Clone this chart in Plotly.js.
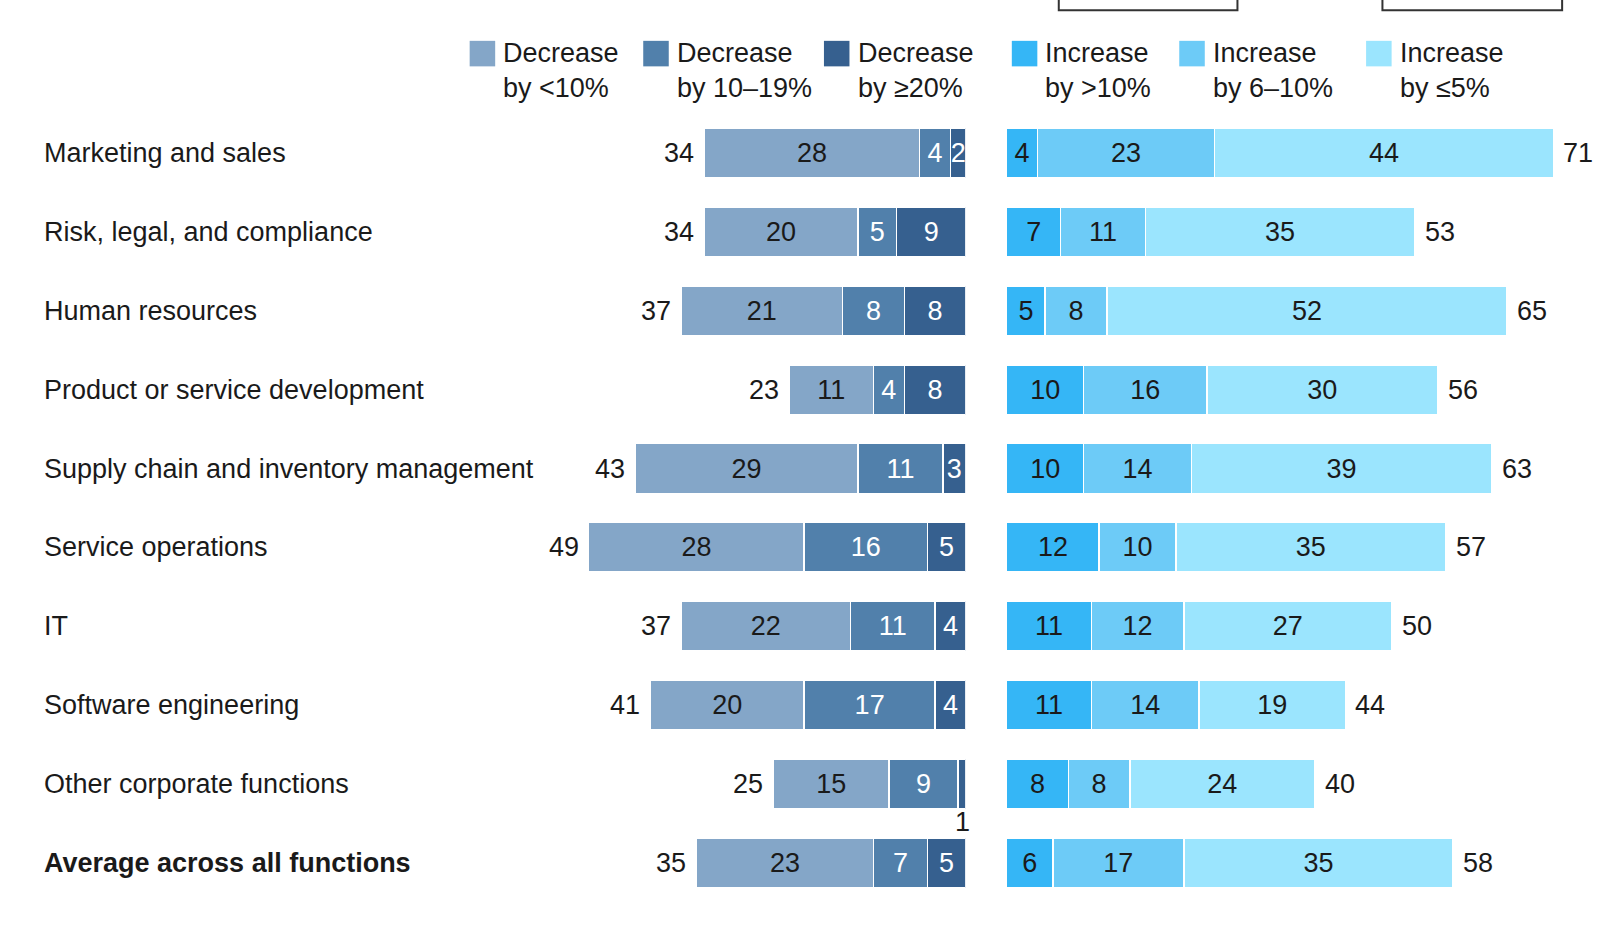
<!DOCTYPE html>
<html>
<head>
<meta charset="utf-8">
<script src="https://cdn.plot.ly/plotly-3.0.1.min.js"></script>
<style>html,body{margin:0;padding:0;background:#fff;}#chart{width:1600px;height:934px;}</style>
</head>
<body>
<div id="chart"></div>
<script>
const categories = [
  "Marketing and sales",
  "Risk, legal, and compliance",
  "Human resources",
  "Product or service development",
  "Supply chain and inventory management",
  "Service operations",
  "IT",
  "Software engineering",
  "Other corporate functions",
  "Average across all functions"
];
const decLt10   = [28, 20, 21, 11, 29, 28, 22, 20, 15, 23];
const dec10to19 = [4, 5, 8, 4, 11, 16, 11, 17, 9, 7];
const decGe20   = [2, 9, 8, 8, 3, 5, 4, 4, 1, 5];
const decTotal  = [34, 34, 37, 23, 43, 49, 37, 41, 25, 35];
const incGt10   = [4, 7, 5, 10, 10, 12, 11, 11, 8, 6];
const inc6to10  = [23, 11, 8, 16, 14, 10, 12, 14, 8, 17];
const incLe5    = [44, 35, 52, 30, 39, 35, 27, 19, 24, 35];
const incTotal  = [71, 53, 65, 56, 63, 57, 50, 44, 40, 58];
const legendNames = ["Decrease<br>by &lt;10%", "Decrease<br>by 10–19%", "Decrease<br>by ≥20%",
                     "Increase<br>by &gt;10%", "Increase<br>by 6–10%", "Increase<br>by ≤5%"];

const C = {
  decLt10: "#84A6C8", dec10to19: "#5180AB", decGe20: "#36608F",
  incGt10: "#35B6F6", inc6to10: "#6DCBF7", incLe5: "#9BE5FE"
};
const FONT = "Liberation Sans, Arial, sans-serif";
const DARK = "#1a1a1a";
const FS = 27;
const S = 1.021;          // layout scale factor
const W = 1600, H = 934;
const px = v => v * S;
const fx = v => px(v) / W;
const fy = v => 1 - px(v) / H;

function lbl(arr){ return arr.map(v => v < 2 ? "" : String(v)); }

function barTrace(vals, color, textColor, xa){
  return {
    type: "bar", orientation: "h", x: vals, y: categories,
    xaxis: xa, yaxis: "y", width: 0.63,
    marker: {color: color, line: {color: "#ffffff", width: 1.5}},
    text: lbl(vals), textposition: "inside", insidetextanchor: "middle",
    constraintext: "none", textangle: 0,
    textfont: {family: FONT, size: FS, color: textColor},
    hoverinfo: "x+y", showlegend: false, cliponaxis: false
  };
}

const data = [
  barTrace(decGe20, C.decGe20, "#ffffff", "x"),
  barTrace(dec10to19, C.dec10to19, "#ffffff", "x"),
  barTrace(decLt10, C.decLt10, DARK, "x"),
  barTrace(incGt10, C.incGt10, DARK, "x2"),
  barTrace(inc6to10, C.inc6to10, DARK, "x2"),
  barTrace(incLe5, C.incLe5, DARK, "x2")
];

const annotations = [];
categories.forEach((c, i) => {
  const last = i === categories.length - 1;
  annotations.push({
    xref: "paper", yref: "y", x: fx(41), y: i, xanchor: "left", yanchor: "middle",
    text: last ? "<b>" + c + "</b>" : c, showarrow: false,
    font: {family: FONT, size: FS, color: DARK}
  });
  annotations.push({
    xref: "x", yref: "y", x: decTotal[i], y: i, xanchor: "right", yanchor: "middle",
    xshift: -8, text: String(decTotal[i]), showarrow: false,
    font: {family: FONT, size: FS, color: DARK}
  });
  annotations.push({
    xref: "x2", yref: "y", x: incTotal[i], y: i, xanchor: "left", yanchor: "middle",
    xshift: 8, text: String(incTotal[i]), showarrow: false,
    font: {family: FONT, size: FS, color: DARK}
  });
  if (decGe20[i] < 2) {
    annotations.push({
      xref: "x", yref: "y", x: decGe20[i] / 2, y: i, xanchor: "center", yanchor: "middle",
      yshift: -px(37), text: String(decGe20[i]), showarrow: false,
      font: {family: FONT, size: FS, color: DARK}
    });
  }
});

const legColors = [C.decLt10, C.dec10to19, C.decGe20, C.incGt10, C.inc6to10, C.incLe5];
const legX = [460, 630, 807, 991, 1155, 1338];
const shapes = [];
legX.forEach((p, k) => {
  shapes.push({
    type: "rect", xref: "paper", yref: "paper",
    x0: fx(p), x1: fx(p + 25), y0: fy(65), y1: fy(40),
    fillcolor: legColors[k], line: {width: 0}
  });
  annotations.push({
    xref: "paper", yref: "paper", x: fx(p + 31), y: fy(35),
    xanchor: "left", yanchor: "top", align: "left",
    text: legendNames[k], showarrow: false,
    font: {family: FONT, size: FS, color: DARK}
  });
});
[[1037,1212],[1354,1530]].forEach(b => {
  shapes.push({
    type: "rect", xref: "paper", yref: "paper",
    x0: fx(b[0]), x1: fx(b[1]), y0: fy(10), y1: fy(-30),
    fillcolor: "rgba(0,0,0,0)", line: {color: "#333333", width: 2}
  });
});

const ppu = 7.54 * S;
const leftZero = px(946), leftStart = px(440), rightZero = px(986);
const row0 = px(150), row9 = px(845);
const span = 9 * H / (row9 - row0);
const r0 = -row0 / H * span;

const layout = {
  width: W, height: H,
  margin: {l: 0, r: 0, t: 0, b: 0},
  paper_bgcolor: "#ffffff", plot_bgcolor: "#ffffff",
  barmode: "stack", showlegend: false,
  xaxis: {domain: [leftStart / W, leftZero / W], range: [(leftZero - leftStart) / ppu, 0],
          showgrid: false, zeroline: false, showticklabels: false, showline: false, fixedrange: true},
  xaxis2: {domain: [rightZero / W, 1], range: [0, (W - rightZero) / ppu],
           showgrid: false, zeroline: false, showticklabels: false, showline: false, fixedrange: true},
  yaxis: {type: "category", range: [r0 + span, r0], showgrid: false, zeroline: false,
          showticklabels: false, showline: false, fixedrange: true},
  annotations: annotations,
  shapes: shapes,
  font: {family: FONT, color: DARK}
};

Plotly.newPlot("chart", data, layout, {displayModeBar: false, staticPlot: true});
</script>
</body>
</html>
